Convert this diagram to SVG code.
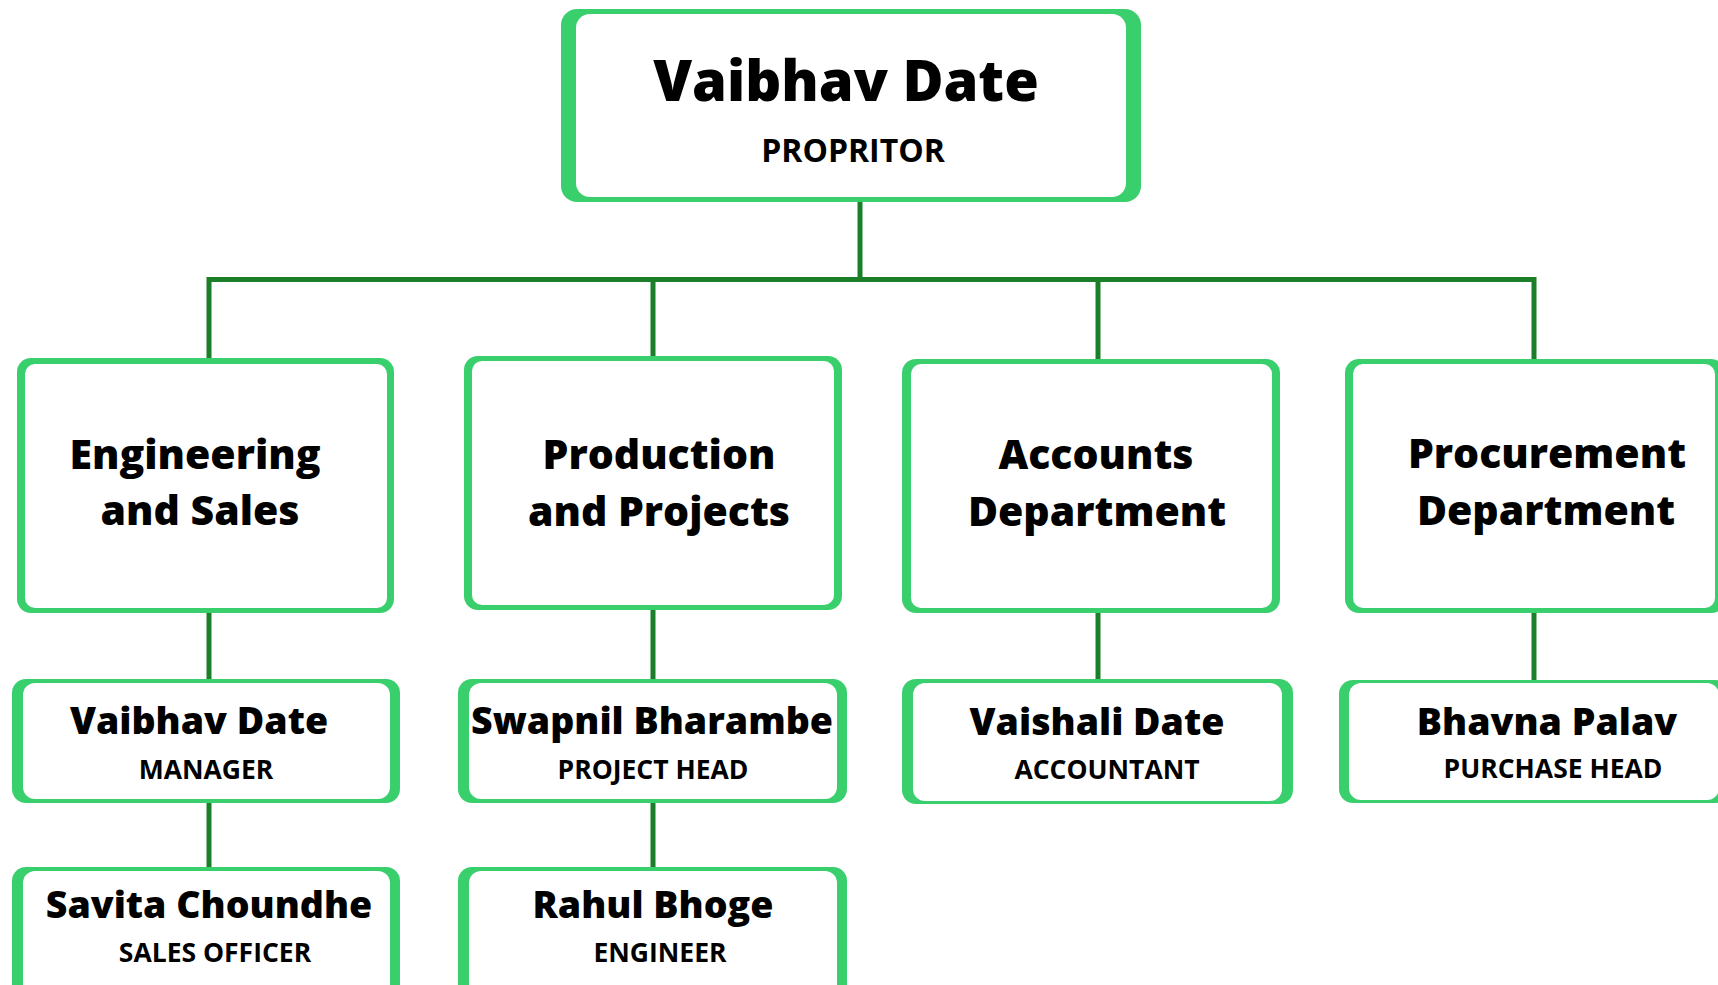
<svg xmlns="http://www.w3.org/2000/svg" width="1718" height="985" viewBox="0 0 1718 985">
<style>
.o{fill:#3acf6d}
.i{fill:#ffffff}
.c{fill:none;stroke:#1b7f2a;stroke-width:5;stroke-linejoin:miter;stroke-linecap:butt}
text{font-family:"Open Sans","Noto Sans","Liberation Sans",sans-serif;fill:#000;text-anchor:middle}
.big{font-size:56px;font-weight:800}
.dept{font-size:41px;font-weight:800}
.nm{font-size:37.5px;font-weight:800}
.tt{font-size:26.5px;font-weight:700}
.tt0{font-size:32px;font-weight:700}
</style>
<rect width="1718" height="985" fill="#ffffff"/>
<g id="connectors">
<path class="c" d="M860 202 V279.5"/>
<path class="c" d="M209 358 V279.5 H1534 V359"/>
<path class="c" d="M653 279.5 V356"/>
<path class="c" d="M1098 279.5 V359"/>
<path class="c" d="M209 613 V679"/>
<path class="c" d="M653 610 V679"/>
<path class="c" d="M1098 613 V679"/>
<path class="c" d="M1534 613 V680"/>
<path class="c" d="M209 803 V867"/>
<path class="c" d="M653 803 V867"/>
</g>
<g id="proprietor">
<rect class="o" x="561" y="9" width="580" height="193" rx="16"/>
<rect class="i" x="576" y="14" width="550" height="183" rx="14"/>
<text class="big" x="846" y="101">Vaibhav Date</text>
<text class="tt0" x="853" y="162">PROPRITOR</text>
</g>
<g id="engineering">
<rect class="o" x="17" y="358" width="377" height="255" rx="14"/>
<rect class="i" x="25" y="364" width="362" height="244" rx="10"/>
<text class="dept" x="195" y="469">Engineering</text>
<text class="dept" x="200" y="525">and Sales</text>
</g>
<g id="production">
<rect class="o" x="464" y="356" width="378" height="254" rx="14"/>
<rect class="i" x="472" y="361" width="362" height="244" rx="10"/>
<text class="dept" x="659" y="469">Production</text>
<text class="dept" x="659" y="526">and Projects</text>
</g>
<g id="accounts">
<rect class="o" x="902" y="359" width="378" height="254" rx="14"/>
<rect class="i" x="911" y="364" width="361" height="244" rx="10"/>
<text class="dept" x="1096" y="469">Accounts</text>
<text class="dept" x="1097" y="526">Department</text>
</g>
<g id="procurement">
<rect class="o" x="1345" y="359" width="380" height="254" rx="14"/>
<rect class="i" x="1353" y="364" width="362" height="244" rx="10"/>
<text class="dept" x="1547" y="468">Procurement</text>
<text class="dept" x="1546" y="525">Department</text>
</g>
<g id="manager">
<rect class="o" x="12" y="679" width="388" height="124" rx="14"/>
<rect class="i" x="23" y="683" width="367" height="116" rx="12"/>
<text class="nm" x="199" y="734">Vaibhav Date</text>
<text class="tt" x="206" y="779">MANAGER</text>
</g>
<g id="project-head">
<rect class="o" x="458" y="679" width="389" height="124" rx="14"/>
<rect class="i" x="469" y="683" width="368" height="116" rx="12"/>
<text class="nm" x="652" y="734">Swapnil Bharambe</text>
<text class="tt" x="653" y="779">PROJECT HEAD</text>
</g>
<g id="accountant">
<rect class="o" x="902" y="679" width="391" height="125" rx="14"/>
<rect class="i" x="913" y="683" width="369" height="118" rx="12"/>
<text class="nm" x="1097" y="735">Vaishali Date</text>
<text class="tt" x="1107" y="779">ACCOUNTANT</text>
</g>
<g id="purchase-head">
<rect class="o" x="1339" y="680" width="391" height="123" rx="14"/>
<rect class="i" x="1349" y="683" width="370" height="117" rx="12"/>
<text class="nm" x="1547" y="735">Bhavna Palav</text>
<text class="tt" x="1553" y="778">PURCHASE HEAD</text>
</g>
<g id="sales-officer">
<rect class="o" x="12" y="867" width="388" height="133" rx="14"/>
<rect class="i" x="23" y="871" width="367" height="125" rx="12"/>
<text class="nm" x="209" y="918">Savita Choundhe</text>
<text class="tt" x="215" y="962">SALES OFFICER</text>
</g>
<g id="engineer">
<rect class="o" x="458" y="867" width="389" height="133" rx="14"/>
<rect class="i" x="469" y="871" width="368" height="125" rx="12"/>
<text class="nm" x="653" y="918">Rahul Bhoge</text>
<text class="tt" x="660" y="962">ENGINEER</text>
</g>
</svg>
